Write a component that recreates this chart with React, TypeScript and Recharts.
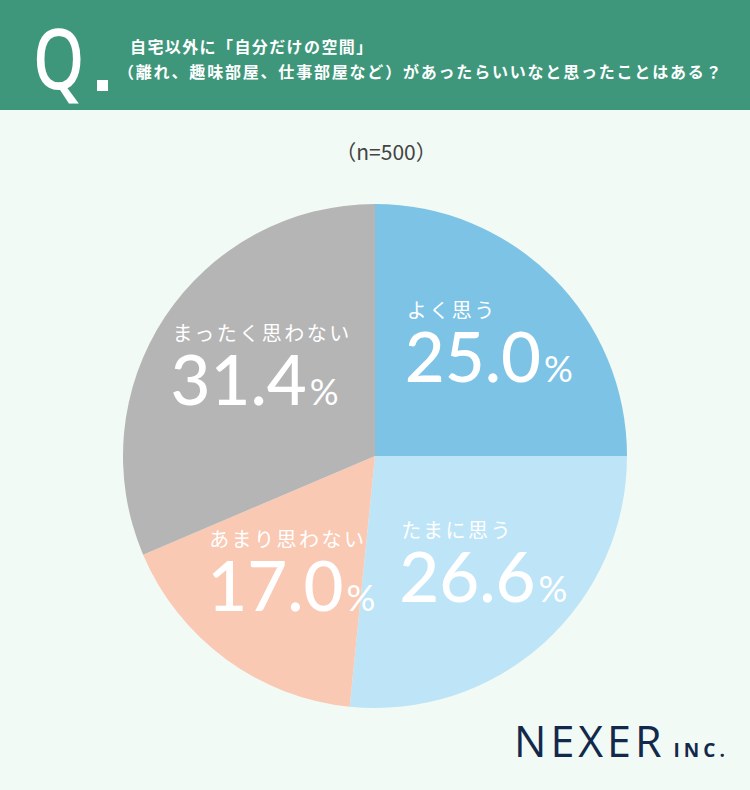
import { PieChart, Pie, Cell } from "recharts"

const answers = ["よく思う", "たまに思う", "あまり思わない", "まったく思わない"]
const shares = [25.0, 26.6, 17.0, 31.4]
const sliceColors = ["#7cc3e6", "#bde5f7", "#f9c9b4", "#b5b5b5"]

const data = answers.map((name, i) => ({ name, value: shares[i] }))

const RAD = Math.PI / 180

function renderLabel(props: any) {
  const { cx, cy, midAngle, index } = props
  const r = 152
  const nx = cx + r * Math.cos(-midAngle * RAD) + 6
  const ny = cy + r * Math.sin(-midAngle * RAD) + 8
  const num = shares[index].toFixed(1)
  // rough width of the number line so both lines share a left edge
  const w = num.replace(".", "").length * 40.5 + 16 + 30
  const left = nx - w / 2
  return (
    <g>
      <text
        x={left + 2}
        y={ny - 39}
        fill="#ffffff"
        fontSize={20}
        letterSpacing={2.5}
        fontFamily="'Noto Sans CJK JP', sans-serif"
      >
        {answers[index]}
      </text>
      <text x={left} y={ny + 25} fill="#ffffff" fontFamily="Lato, 'Open Sans', sans-serif">
        <tspan fontSize={69} fontWeight={500}>{num}</tspan>
        <tspan fontSize={36} dx={3}>%</tspan>
      </text>
    </g>
  )
}

export default function App() {
  return (
    <div
      style={{
        position: "absolute",
        left: 0,
        top: 0,
        width: 750,
        height: 790,
        background: "#f2faf6",
        overflow: "hidden",
        fontFamily: "'Noto Sans CJK JP', sans-serif",
      }}
    >
      <div
        style={{
          position: "absolute",
          left: 0,
          top: 0,
          width: 750,
          height: 110,
          background: "#3e977b",
        }}
      >
        <svg width={120} height={110} style={{ position: "absolute", left: 0, top: 0 }}>
          <text
            x={33}
            y={89}
            fill="#fff"
            fontSize={84}
            fontWeight={500}
            fontFamily="'Noto Sans', sans-serif"
            transform="translate(33 0) scale(0.78 1) translate(-33 0)"
          >
            Q
          </text>
          <rect x={97} y={80} width={11} height={11} fill="#fff" />
        </svg>
        <div
          style={{
            position: "absolute",
            left: 130,
            top: 34,
            color: "#fff",
            fontSize: 16,
            fontWeight: 700,
            letterSpacing: 1.4,
            lineHeight: "24px",
            whiteSpace: "nowrap",
          }}
        >
          自宅以外に「自分だけの空間」
        </div>
        <div
          style={{
            position: "absolute",
            left: 118,
            top: 59,
            color: "#fff",
            fontSize: 16,
            fontWeight: 700,
            letterSpacing: 1.8,
            lineHeight: "24px",
            whiteSpace: "nowrap",
          }}
        >
          （離れ、趣味部屋、仕事部屋など）があったらいいなと思ったことはある？
        </div>
      </div>
      <div
        style={{
          position: "absolute",
          left: 0,
          top: 136,
          width: 772,
          textAlign: "center",
          color: "#444",
          fontSize: 21,
          fontFamily: "'Noto Sans CJK JP', sans-serif",
        }}
      >
        （n=500）
      </div>
      <div style={{ position: "absolute", left: 0, top: 0 }}>
        <PieChart width={750} height={790} margin={{ top: 0, right: 0, bottom: 0, left: 0 }}>
          <Pie
            data={data}
            dataKey="value"
            cx={375}
            cy={456}
            outerRadius={252}
            startAngle={90}
            endAngle={-270}
            stroke="none"
            label={renderLabel}
            labelLine={false}
            isAnimationActive={false}
          >
            {data.map((d, i) => (
              <Cell key={d.name} fill={sliceColors[i]} />
            ))}
          </Pie>
        </PieChart>
      </div>
      <div
        style={{
          position: "absolute",
          left: 514,
          top: 716,
          color: "#13294b",
          fontSize: 43,
          letterSpacing: 4,
          fontFamily: "'Open Sans', sans-serif",
          lineHeight: "50px",
          whiteSpace: "nowrap",
        }}
      >
        NEXER
        <span style={{ fontSize: 19, fontWeight: 700, letterSpacing: 4, marginLeft: 8 }}>INC.</span>
      </div>
    </div>
  )
}
